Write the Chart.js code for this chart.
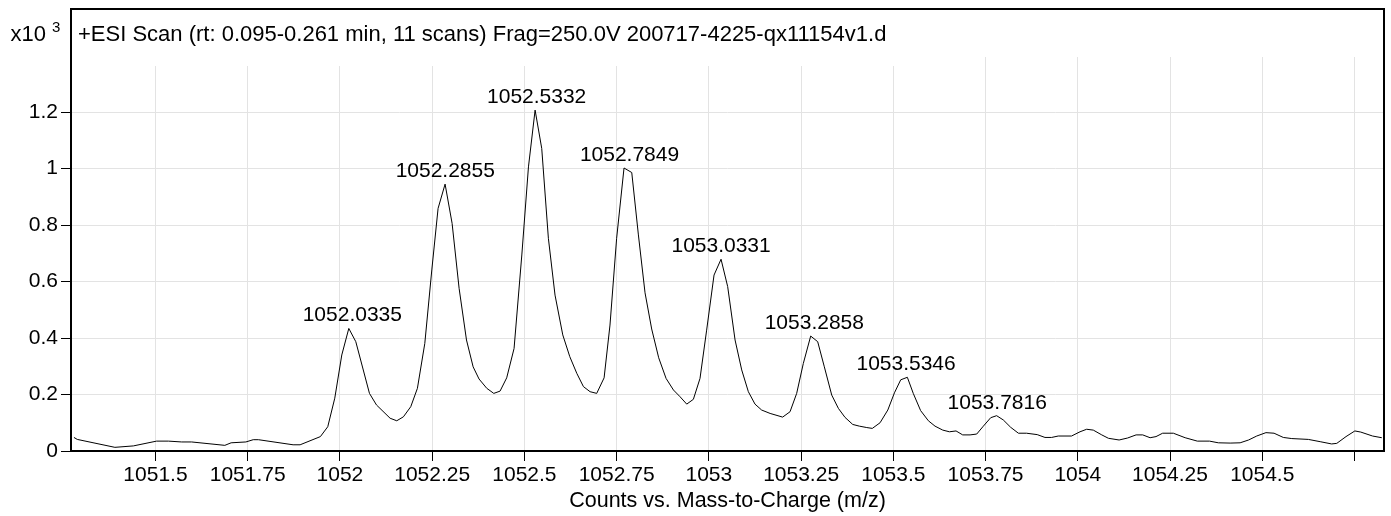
<!DOCTYPE html>
<html>
<head>
<meta charset="utf-8">
<title>+ESI Scan</title>
<script src="https://cdn.jsdelivr.net/npm/chart.js@4.4.1/dist/chart.umd.min.js"></script>
<style>
  body { margin: 0; background: #fff; }
  #wrap { width: 1391px; height: 516px; }
</style>
</head>
<body>
<div id="wrap"><canvas id="espectro" width="1391" height="516"></canvas></div>
<script>
const mz = [
  1051.279, 1051.288, 1051.390, 1051.440, 1051.503, 1051.535, 1051.571, 1051.598,
  1051.688, 1051.705, 1051.745, 1051.765, 1051.779, 1051.873, 1051.892, 1051.947,
  1051.967, 1051.986, 1052.005, 1052.024, 1052.043, 1052.080, 1052.099, 1052.136,
  1052.154, 1052.172, 1052.192, 1052.210, 1052.230, 1052.249, 1052.266, 1052.285,
  1052.304, 1052.323, 1052.343, 1052.361, 1052.377, 1052.398, 1052.417, 1052.434,
  1052.452, 1052.472, 1052.493, 1052.511, 1052.529, 1052.547, 1052.565, 1052.583,
  1052.604, 1052.623, 1052.642, 1052.660, 1052.678, 1052.696, 1052.716, 1052.732,
  1052.750, 1052.770, 1052.791, 1052.809, 1052.827, 1052.845, 1052.864, 1052.884,
  1052.904, 1052.922, 1052.940, 1052.958, 1052.976, 1052.994, 1053.014, 1053.033,
  1053.051, 1053.071, 1053.089, 1053.107, 1053.125, 1053.143, 1053.166, 1053.200,
  1053.220, 1053.238, 1053.256, 1053.276, 1053.295, 1053.313, 1053.333, 1053.351,
  1053.369, 1053.390, 1053.408, 1053.428, 1053.443, 1053.464, 1053.485, 1053.503,
  1053.520, 1053.538, 1053.554, 1053.574, 1053.595, 1053.613, 1053.634, 1053.652,
  1053.670, 1053.688, 1053.708, 1053.726, 1053.744, 1053.764, 1053.780, 1053.798,
  1053.818, 1053.839, 1053.861, 1053.890, 1053.911, 1053.929, 1053.947, 1053.983,
  1054.006, 1054.024, 1054.042, 1054.065, 1054.083, 1054.112, 1054.135, 1054.158,
  1054.176, 1054.196, 1054.212, 1054.230, 1054.259, 1054.291, 1054.324, 1054.357,
  1054.381, 1054.413, 1054.440, 1054.463, 1054.485, 1054.510, 1054.532, 1054.557,
  1054.580, 1054.625, 1054.657, 1054.688, 1054.702, 1054.727, 1054.751, 1054.767,
  1054.799, 1054.824
];
const cuentas = [
  0.048, 0.041, 0.013, 0.018, 0.035, 0.035, 0.032, 0.032,
  0.020, 0.029, 0.032, 0.040, 0.040, 0.022, 0.022, 0.051,
  0.086, 0.187, 0.340, 0.434, 0.387, 0.204, 0.163, 0.116,
  0.107, 0.121, 0.157, 0.222, 0.381, 0.641, 0.859, 0.945,
  0.806, 0.576, 0.393, 0.298, 0.255, 0.222, 0.204, 0.212,
  0.259, 0.363, 0.694, 1.006, 1.207, 1.071, 0.753, 0.552,
  0.411, 0.334, 0.275, 0.228, 0.210, 0.204, 0.259, 0.446,
  0.753, 1.002, 0.986, 0.765, 0.560, 0.432, 0.330, 0.257,
  0.216, 0.192, 0.166, 0.183, 0.257, 0.428, 0.623, 0.679,
  0.582, 0.393, 0.287, 0.210, 0.166, 0.145, 0.133, 0.120,
  0.139, 0.204, 0.310, 0.407, 0.387, 0.298, 0.198, 0.151,
  0.119, 0.094, 0.088, 0.083, 0.080, 0.100, 0.145, 0.206,
  0.252, 0.261, 0.204, 0.143, 0.107, 0.088, 0.074, 0.068,
  0.071, 0.057, 0.057, 0.060, 0.088, 0.118, 0.125, 0.110,
  0.084, 0.063, 0.063, 0.058, 0.048, 0.048, 0.053, 0.053,
  0.068, 0.077, 0.074, 0.057, 0.045, 0.039, 0.046, 0.057,
  0.057, 0.047, 0.051, 0.063, 0.063, 0.047, 0.035, 0.035,
  0.029, 0.028, 0.029, 0.039, 0.053, 0.065, 0.063, 0.048,
  0.044, 0.041, 0.033, 0.025, 0.027, 0.051, 0.071, 0.067,
  0.053, 0.047
];

// picos etiquetados
const picos = [1052.0335, 1052.2855, 1052.5332, 1052.7849, 1053.0331, 1053.2858, 1053.5346, 1053.7816];

// etiquetas de los ejes
const etiquetasX = ['1051.5', '1051.75', '1052', '1052.25', '1052.5', '1052.75', '1053',
                    '1053.25', '1053.5', '1053.75', '1054', '1054.25', '1054.5', ''];
const etiquetasY = ['0', '0.2', '0.4', '0.6', '0.8', '1', '1.2'];

const tituloScan = '+ESI Scan (rt: 0.095-0.261 min, 11 scans) Frag=250.0V 200717-4225-qx11154v1.d';
const tituloEjeX = 'Counts vs. Mass-to-Charge (m/z)';

const FUENTE = "'Liberation Sans', Arial, sans-serif";
const TAM = 21;        // numeros
const TAM_TITULO = 22; // titulo del scan

// dibuja el marco, el titulo del scan, el x10^3 y las etiquetas de picos
const marcoYTextos = {
  id: 'marcoYTextos',
  beforeDatasetsDraw(chart) {
    const ctx = chart.ctx;
    const a = chart.chartArea;
    ctx.save();
    ctx.font = TAM_TITULO + 'px ' + FUENTE;
    const w = ctx.measureText(tituloScan).width;
    // caja blanca detras del titulo (tapa la rejilla)
    ctx.fillStyle = '#fff';
    ctx.fillRect(a.left + 1, 10, w + 14, a.top + 9 - 10);
    ctx.restore();
  },
  afterDraw(chart) {
    const ctx = chart.ctx;
    const a = chart.chartArea;
    const xs = chart.scales.x;
    const ys = chart.scales.y;
    ctx.save();
    ctx.strokeStyle = '#000';
    ctx.lineWidth = 2;
    ctx.strokeRect(a.left, 9, a.right - a.left, a.bottom - 9);

    ctx.fillStyle = '#000';
    ctx.font = TAM_TITULO + 'px ' + FUENTE;
    ctx.textBaseline = 'alphabetic';
    ctx.textAlign = 'left';
    ctx.fillText(tituloScan, a.left + 7, 41);
    ctx.textAlign = 'right';
    ctx.fillText('x10', 46, 41);
    ctx.font = '15px ' + FUENTE;
    ctx.textAlign = 'left';
    ctx.fillText('3', 52, 32);

    // etiquetas de picos
    ctx.font = TAM + 'px ' + FUENTE;
    ctx.textAlign = 'center';
    picos.forEach(function (p) {
      let maxY = 0;
      for (let i = 0; i < mz.length; i++) {
        if (Math.abs(mz[i] - p) < 0.03 && cuentas[i] > maxY) maxY = cuentas[i];
      }
      ctx.fillText(p.toFixed(4), xs.getPixelForValue(p), ys.getPixelForValue(maxY) - 7);
    });
    ctx.restore();
  }
};

const puntos = mz.map(function (x, i) { return { x: x, y: cuentas[i] }; });

const ctx = document.getElementById('espectro').getContext('2d');
new Chart(ctx, {
  type: 'line',
  data: {
    datasets: [{
      label: 'Counts',
      data: puntos,
      borderColor: '#000',
      borderWidth: 1,
      pointRadius: 0,
      fill: false,
      tension: 0
    }]
  },
  plugins: [marcoYTextos],
  options: {
    responsive: false,
    animation: false,
    layout: { padding: { top: 57, right: 7, left: 0, bottom: 0 } },
    plugins: {
      legend: { display: false },
      tooltip: { enabled: false }
    },
    scales: {
      x: {
        type: 'linear',
        min: 1051.271,
        max: 1054.830,
        afterFit: function (s) { s.height = 65; },
        border: { display: false },
        grid: { color: '#e3e3e3', lineWidth: 1, tickColor: '#000', tickLength: 10 },
        ticks: {
          stepSize: 0.25,
          includeBounds: false,
          autoSkip: false,
          maxRotation: 0,
          padding: 2,
          color: '#000',
          font: { family: FUENTE, size: TAM },
          callback: function (v, i) { return etiquetasX[i]; }
        },
        title: {
          display: true,
          text: tituloEjeX,
          color: '#000',
          font: { family: FUENTE, size: 21.5 },
          padding: { top: 0, bottom: 2 }
        }
      },
      y: {
        min: 0,
        max: 1.395,
        afterFit: function (s) { s.width = 71; },
        border: { display: false },
        grid: { color: '#e3e3e3', lineWidth: 1, tickColor: '#000', tickLength: 10 },
        ticks: {
          stepSize: 0.2,
          includeBounds: false,
          padding: 3,
          color: '#000',
          font: { family: FUENTE, size: TAM },
          callback: function (v, i) { return etiquetasY[i]; }
        }
      }
    }
  }
});
</script>
</body>
</html>
